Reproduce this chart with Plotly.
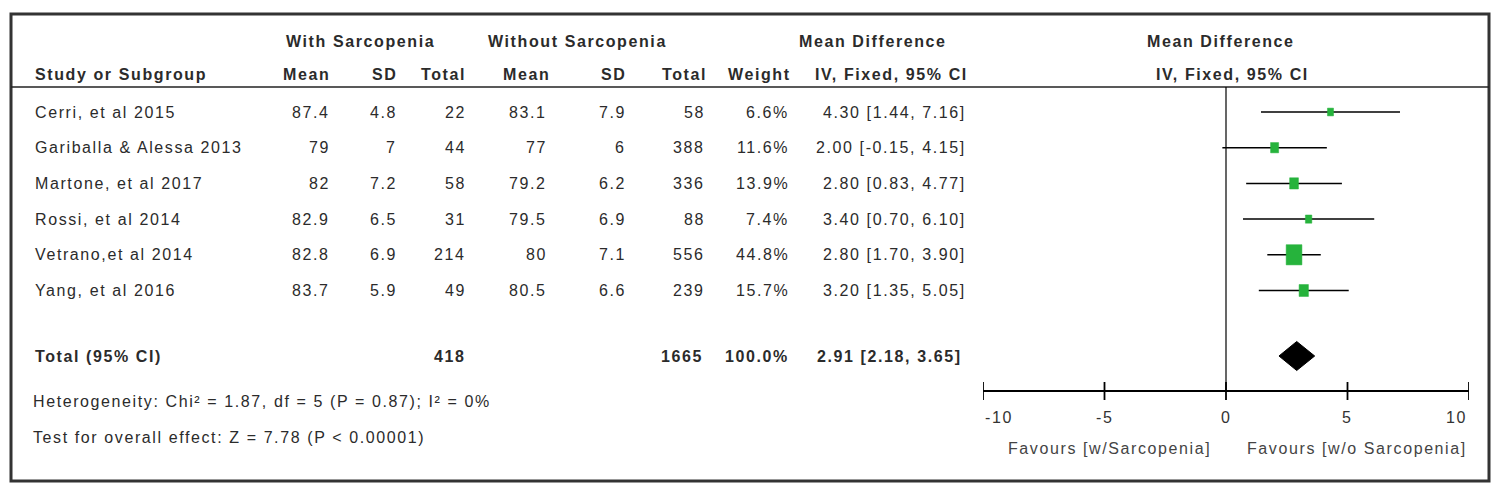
import math
import plotly.graph_objects as go

# ---------------- data ----------------
studies = ["Cerri, et al 2015", "Gariballa & Alessa 2013", "Martone, et al 2017",
           "Rossi, et al 2014", "Vetrano,et al 2014", "Yang, et al 2016"]
mean_with = [87.4, 79, 82, 82.9, 82.8, 83.7]
sd_with = [4.8, 7, 7.2, 6.5, 6.9, 5.9]
n_with = [22, 44, 58, 31, 214, 49]
mean_without = [83.1, 77, 79.2, 79.5, 80, 80.5]
sd_without = [7.9, 6, 6.2, 6.9, 7.1, 6.6]
n_without = [58, 388, 336, 88, 556, 239]
weights = [6.6, 11.6, 13.9, 7.4, 44.8, 15.7]
md = [4.30, 2.00, 2.80, 3.40, 2.80, 3.20]
ci_low = [1.44, -0.15, 0.83, 0.70, 1.70, 1.35]
ci_high = [7.16, 4.15, 4.77, 6.10, 3.90, 5.05]

total_label = "Total (95% CI)"
total_with = 418
total_without = 1665
total_weight = 100.0
total_md = 2.91
total_low = 2.18
total_high = 3.65

heterogeneity = "Heterogeneity: Chi² = 1.87, df = 5 (P = 0.87); I² = 0%"
overall = "Test for overall effect: Z = 7.78 (P < 0.00001)"

tick_vals = [-10, -5, 0, 5, 10]
tick_labels = ["-10", "-5", "0", "5", "10"]
favours_left = "Favours [w/Sarcopenia]"
favours_right = "Favours [w/o Sarcopenia]"

# ---------------- layout constants (page pixels) ----------------
PAGE_W, PAGE_H = 1500, 486
OFF = 8                       # default body margin of the html page
W, H = PAGE_W - OFF, PAGE_H - OFF
FONT = "Liberation Sans, Arial, sans-serif"
TXT = "#2b2b2b"
GREEN = "#26b33c"
SPACING = 1.6
X_LEFT_PX, X_RIGHT_PX = 983, 1469   # pixel span of the -10..10 axis
PX_PER_UNIT = (X_RIGHT_PX - X_LEFT_PX) / (tick_vals[-1] - tick_vals[0])

row_y0, row_dy = 112, 35.7
rows_y = [row_y0 + i * row_dy for i in range(len(studies))]
total_y = 356
het_y, overall_y = 401, 437
head1_y, head2_y = 41, 74
axis_y = 391
header_line_y = 87

col = dict(study=33, mw=332, sw=399, nw=468, mo=549, so=628, no=707, wt=791, ci=968)


def px(x):
    return (x - OFF) / W


def esc(s):
    return s.replace("&", "&amp;").replace("<", "&lt;").replace(">", "&gt;")


def fmt(v):
    return f"{v:g}"


annotations = []


def txt(x, y, s, anchor="right", bold=False, size=16, color=TXT, xref="paper"):
    t = esc(s)
    if bold:
        t = f"<b>{t}</b>"
    t = f'<span style="letter-spacing:{SPACING}px">{t}</span>'
    annotations.append(dict(
        x=px(x) if xref == "paper" else x, y=y, xref=xref, yref="y",
        text=t, showarrow=False, xanchor=anchor, yanchor="middle",
        font=dict(family=FONT, size=size, color=color)))


# headers
txt(360, head1_y, "With Sarcopenia", "center", True)
txt(577, head1_y, "Without Sarcopenia", "center", True)
txt(873, head1_y, "Mean Difference", "center", True)
txt(1221, head1_y, "Mean Difference", "center", True)
txt(33, head2_y, "Study or Subgroup", "left", True)
txt(col["mw"], head2_y, "Mean", "right", True)
txt(col["sw"], head2_y, "SD", "right", True)
txt(col["nw"], head2_y, "Total", "right", True)
txt(col["mo"] + 3, head2_y, "Mean", "right", True)
txt(col["so"], head2_y, "SD", "right", True)
txt(col["no"] + 2, head2_y, "Total", "right", True)
txt(col["wt"] + 2, head2_y, "Weight", "right", True)
txt(891, head2_y, "IV, Fixed, 95% CI", "center", True)
txt(1232, head2_y, "IV, Fixed, 95% CI", "center", True)

# study rows
for i, s in enumerate(studies):
    y = rows_y[i]
    txt(33, y, s, "left")
    txt(col["mw"], y, fmt(mean_with[i]))
    txt(col["sw"], y, fmt(sd_with[i]))
    txt(col["nw"], y, str(n_with[i]))
    txt(col["mo"], y, fmt(mean_without[i]))
    txt(col["so"], y, fmt(sd_without[i]))
    txt(col["no"], y, str(n_without[i]))
    txt(col["wt"], y, f"{weights[i]:.1f}%")
    txt(col["ci"], y, f"{md[i]:.2f} [{ci_low[i]:.2f}, {ci_high[i]:.2f}]")

# total row
txt(33, total_y, total_label, "left", True)
txt(col["nw"], total_y, str(total_with), "right", True)
txt(col["no"] - 2, total_y, str(total_without), "right", True)
txt(col["wt"], total_y, f"{total_weight:.1f}%", "right", True)
txt(col["ci"] - 4, total_y, f"{total_md:.2f} [{total_low:.2f}, {total_high:.2f}]", "right", True)

txt(31, het_y, heterogeneity, "left")
txt(31, overall_y, overall, "left")

# axis tick labels
for v, lab in zip(tick_vals, tick_labels):
    anchor = "left" if v == tick_vals[0] else ("right" if v == tick_vals[-1] else "center")
    txt(v, 417, lab, anchor, color="#333333", xref="x")
txt(-0.55, 448, favours_left, "right", color="#444444", xref="x")
txt(0.8, 448, favours_right, "left", color="#444444", xref="x")

# ---------------- traces ----------------
fig = go.Figure()

# confidence interval lines
cx, cy = [], []
for i in range(len(studies)):
    cx += [ci_low[i], ci_high[i], None]
    cy += [rows_y[i], rows_y[i], None]
fig.add_trace(go.Scatter(x=cx, y=cy, mode="lines", line=dict(color="black", width=1.5),
                         hoverinfo="skip", showlegend=False, cliponaxis=False))

# weight boxes (area proportional to weight, slightly taller than wide)
AREA_PER_PCT = 7.1
ASPECT = 0.78
for i in range(len(studies)):
    h = math.sqrt(AREA_PER_PCT * weights[i] / ASPECT)
    w = ASPECT * h / PX_PER_UNIT
    x0, x1 = md[i] - w / 2, md[i] + w / 2
    y0, y1 = rows_y[i] - h / 2, rows_y[i] + h / 2
    fig.add_trace(go.Scatter(
        x=[x0, x1, x1, x0, x0], y=[y0, y0, y1, y1, y0], mode="lines", fill="toself",
        fillcolor=GREEN, line=dict(color=GREEN, width=0.5), name=studies[i],
        showlegend=False, cliponaxis=False))

# pooled diamond
half_h = 14.5
fig.add_trace(go.Scatter(
    x=[total_low, total_md, total_high, total_md, total_low],
    y=[total_y, total_y - half_h, total_y, total_y + half_h, total_y],
    mode="lines", fill="toself", fillcolor="black", line=dict(color="black", width=1),
    showlegend=False, cliponaxis=False))

# ---------------- shapes ----------------
shapes = []
shapes.append(dict(type="rect", xref="paper", yref="y", x0=px(11), x1=px(1489), y0=14, y1=481,
                   line=dict(color="#333333", width=3)))
shapes.append(dict(type="line", xref="paper", yref="y", x0=px(11), x1=px(1489),
                   y0=header_line_y, y1=header_line_y, line=dict(color="#222222", width=1.5)))
shapes.append(dict(type="line", xref="x", yref="y", x0=0, x1=0, y0=header_line_y, y1=axis_y,
                   line=dict(color="black", width=1.2)))
shapes.append(dict(type="line", xref="x", yref="y", x0=tick_vals[0], x1=tick_vals[-1],
                   y0=axis_y, y1=axis_y, line=dict(color="black", width=1.8)))
for v in tick_vals:
    shapes.append(dict(type="line", xref="x", yref="y", x0=v, x1=v, y0=axis_y - 9, y1=axis_y + 9,
                       line=dict(color="black", width=1.8)))

fig.update_layout(
    width=W, height=H, margin=dict(l=0, r=0, t=0, b=0),
    paper_bgcolor="white", plot_bgcolor="rgba(0,0,0,0)",
    xaxis=dict(domain=[px(X_LEFT_PX), px(X_RIGHT_PX)], range=[tick_vals[0], tick_vals[-1]],
               visible=False, fixedrange=True),
    yaxis=dict(domain=[0, 1], range=[PAGE_H, OFF], visible=False, fixedrange=True),
    shapes=shapes, annotations=annotations, showlegend=False,
)

fig.write_html("out.html")
